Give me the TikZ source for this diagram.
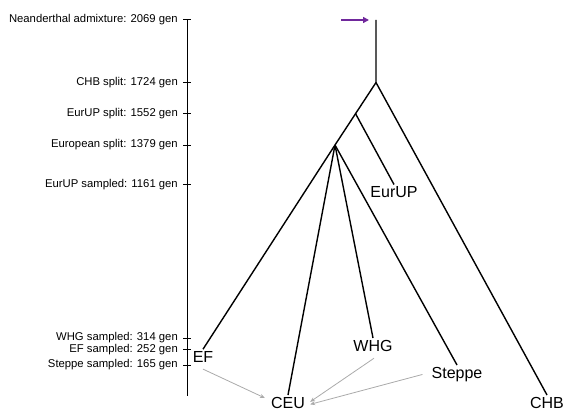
\documentclass[tikz,border=0pt]{standalone}
\usepackage{fontspec}
\setmainfont{Liberation Sans}
\usetikzlibrary{arrows.meta,calc}
\definecolor{admixpurple}{RGB}{112,40,156}
\definecolor{admixgray}{RGB}{170,170,170}
\begin{document}
\begin{tikzpicture}[x=1pt,y=-1pt,
  branch/.style={line width=1.4pt,black},
  axisline/.style={line width=1pt,black},
  ticklabel/.style={anchor=east,inner sep=0pt,font=\fontsize{11.3}{13}\selectfont},
  leaf/.style={anchor=north,inner sep=2pt,font=\fontsize{16}{19}\selectfont},
  pulse/.style={line width=0.8pt,admixgray,-{Stealth[length=5pt,width=4pt]}},
  neand/.style={line width=1.5pt,admixpurple,-{Triangle[length=6pt,width=6pt]}}]
\useasboundingbox (0,0) rectangle (564,409);
% time axis
\draw[axisline] (187,20) -- (187,396);
\foreach \yy/\lab in {20/{Neanderthal admixture: 2069 gen},
                      82.5/{CHB split: 1724 gen},
                      113.7/{EurUP split: 1552 gen},
                      145/{European split: 1379 gen},
                      184.5/{EurUP sampled: 1161 gen},
                      338/{WHG sampled: 314 gen},
                      349.2/{EF sampled: 252 gen},
                      365/{Steppe sampled: 165 gen}}{
  \draw[axisline] (183,\yy) -- (191,\yy);
  \node[ticklabel] at (178,\yy) {\lab};
}
% tree
\coordinate (top) at (376,20);
\coordinate (chbsplit) at (376,82.5);
\coordinate (eusplit) at (335,145);
\coordinate (eurupsplit) at ($(chbsplit)!0.4986!(eusplit)$);
\coordinate (neandstart) at (341,20);
\coordinate (neandend) at (369,20);
\node[leaf] (EurUP) at (394,184.5) {EurUP};
\node[leaf] (EF) at (203,349.2) {EF};
\node[leaf] (WHG) at (373,338) {WHG};
\node[leaf] (Steppe) at (457,365) {Steppe};
\node[leaf] (CEU) at (288,395) {CEU};
\node[leaf] (CHB) at (547,395) {CHB};
\draw[branch] (top) -- (chbsplit) -- (CHB.north);
\draw[branch] (chbsplit) -- (eusplit);
\draw[branch] (eurupsplit) -- (EurUP.north);
\draw[branch] (eusplit) -- (EF.north);
\draw[branch] (eusplit) -- (CEU.north);
\draw[branch] (eusplit) -- (WHG.north);
\draw[branch] (eusplit) -- (Steppe.north);
% admixture pulses
\draw[neand] (neandstart) -- (neandend);
\draw[pulse] ([shift={(0,4.5)}]EF.south) -- ([shift={(-4,3)}]CEU.north west);
\draw[pulse] ([shift={(1,4.5)}]WHG.south) -- ([shift={(3,-1)}]CEU.east);
\draw[pulse] ([shift={(-7,0)}]Steppe.west) -- ([shift={(3,1.5)}]CEU.east);
\end{tikzpicture}
\end{document}
